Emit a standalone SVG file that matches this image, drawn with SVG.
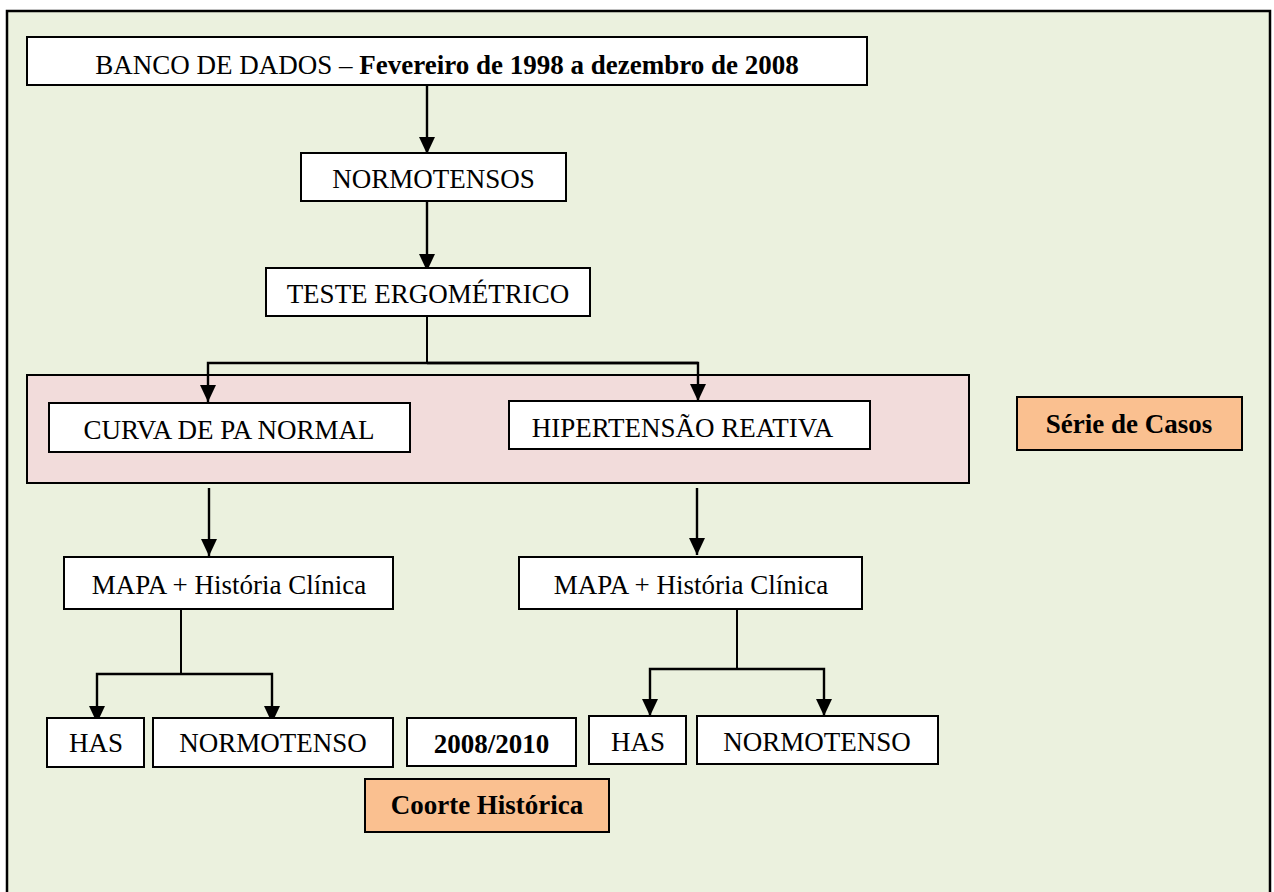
<svg xmlns="http://www.w3.org/2000/svg" width="1274" height="892" viewBox="0 0 1274 892">
<style>
.box{fill:#ffffff;stroke:#000;stroke-width:2}
.hl{fill:#fac090;stroke:#000;stroke-width:2}
.t{font-family:"Liberation Serif","Times New Roman",serif;font-size:27px;fill:#000;text-anchor:middle}
.b{font-weight:bold}
.ln{fill:none;stroke:#000;stroke-width:2}
.ar{fill:none;stroke:#000;stroke-width:2.4;marker-end:url(#ah)}
</style>
<defs>
<marker id="ah" markerUnits="userSpaceOnUse" markerWidth="18" markerHeight="18" viewBox="0 0 18 18" refX="9" refY="17" orient="0">
<path d="M1,0 L17,0 L9,17 Z" fill="#000"/>
</marker>
</defs>
<rect x="0" y="0" width="1274" height="892" fill="#ffffff"/>
<rect id="frame" x="7" y="11" width="1263" height="900" fill="#ebf1de" stroke="#000" stroke-width="2.5"/>
<g id="serie-group">
<rect x="27" y="375" width="942" height="108" fill="#f2dcdb" stroke="#000" stroke-width="2"/>
</g>
<g id="connectors">
<line class="ar" x1="427" y1="85" x2="427" y2="154"/>
<line class="ar" x1="427" y1="201" x2="427" y2="271"/>
<polyline class="ln" points="427,316 427,363"/>
<polyline class="ar" points="698,363 208,363 208,402" />
<polyline class="ar" points="427,363 698,363 698,401"/>
<line class="ar" x1="209" y1="488" x2="209" y2="556"/>
<line class="ar" x1="697" y1="488" x2="697" y2="555"/>
<line class="ln" x1="181" y1="609" x2="181" y2="674"/>
<polyline class="ar" points="181,674 97,674 97,723"/>
<polyline class="ar" points="181,674 272,674 272,723"/>
<line class="ln" x1="737" y1="609" x2="737" y2="669"/>
<polyline class="ar" points="737,669 650,669 650,716"/>
<polyline class="ar" points="737,669 824,669 824,716"/>
</g>
<g id="banco">
<rect class="box" x="27" y="37" width="840" height="48"/>
<text class="t" x="447" y="74">BANCO DE DADOS – <tspan class="b">Fevereiro de 1998 a dezembro de 2008</tspan></text>
</g>
<g id="normotensos">
<rect class="box" x="301" y="153" width="265" height="48"/>
<text class="t" x="433.5" y="188">NORMOTENSOS</text>
</g>
<g id="teste">
<rect class="box" x="266" y="268" width="324" height="48"/>
<text class="t" x="428" y="303">TESTE ERGOMÉTRICO</text>
</g>
<g id="curva">
<rect class="box" x="49" y="403" width="361" height="49"/>
<text class="t" x="229" y="439">CURVA DE PA NORMAL</text>
</g>
<g id="hiper">
<rect class="box" x="509" y="401" width="361" height="48"/>
<text class="t" x="682.5" y="437">HIPERTENSÃO REATIVA</text>
</g>
<g id="serie">
<rect class="hl" x="1017" y="397" width="225" height="53"/>
<text class="t b" x="1129" y="433">Série de Casos</text>
</g>
<g id="mapa-left">
<rect class="box" x="64" y="557" width="329" height="52"/>
<text class="t" x="229" y="594">MAPA + História Clínica</text>
</g>
<g id="mapa-right">
<rect class="box" x="519" y="557" width="343" height="52"/>
<text class="t" x="691" y="594">MAPA + História Clínica</text>
</g>
<g id="has-left">
<rect class="box" x="47" y="718" width="97" height="49"/>
<text class="t" x="96" y="752">HAS</text>
</g>
<g id="normo-left">
<rect class="box" x="153" y="718" width="240" height="49"/>
<text class="t" x="273" y="752">NORMOTENSO</text>
</g>
<g id="periodo">
<rect class="box" x="407" y="718" width="169" height="48"/>
<text class="t b" x="491.5" y="753">2008/2010</text>
</g>
<g id="has-right">
<rect class="box" x="589" y="716" width="97" height="48"/>
<text class="t" x="638" y="751">HAS</text>
</g>
<g id="normo-right">
<rect class="box" x="697" y="716" width="241" height="48"/>
<text class="t" x="817" y="751">NORMOTENSO</text>
</g>
<g id="coorte">
<rect class="hl" x="365" y="779" width="244" height="53"/>
<text class="t b" x="487" y="814">Coorte Histórica</text>
</g>
</svg>
